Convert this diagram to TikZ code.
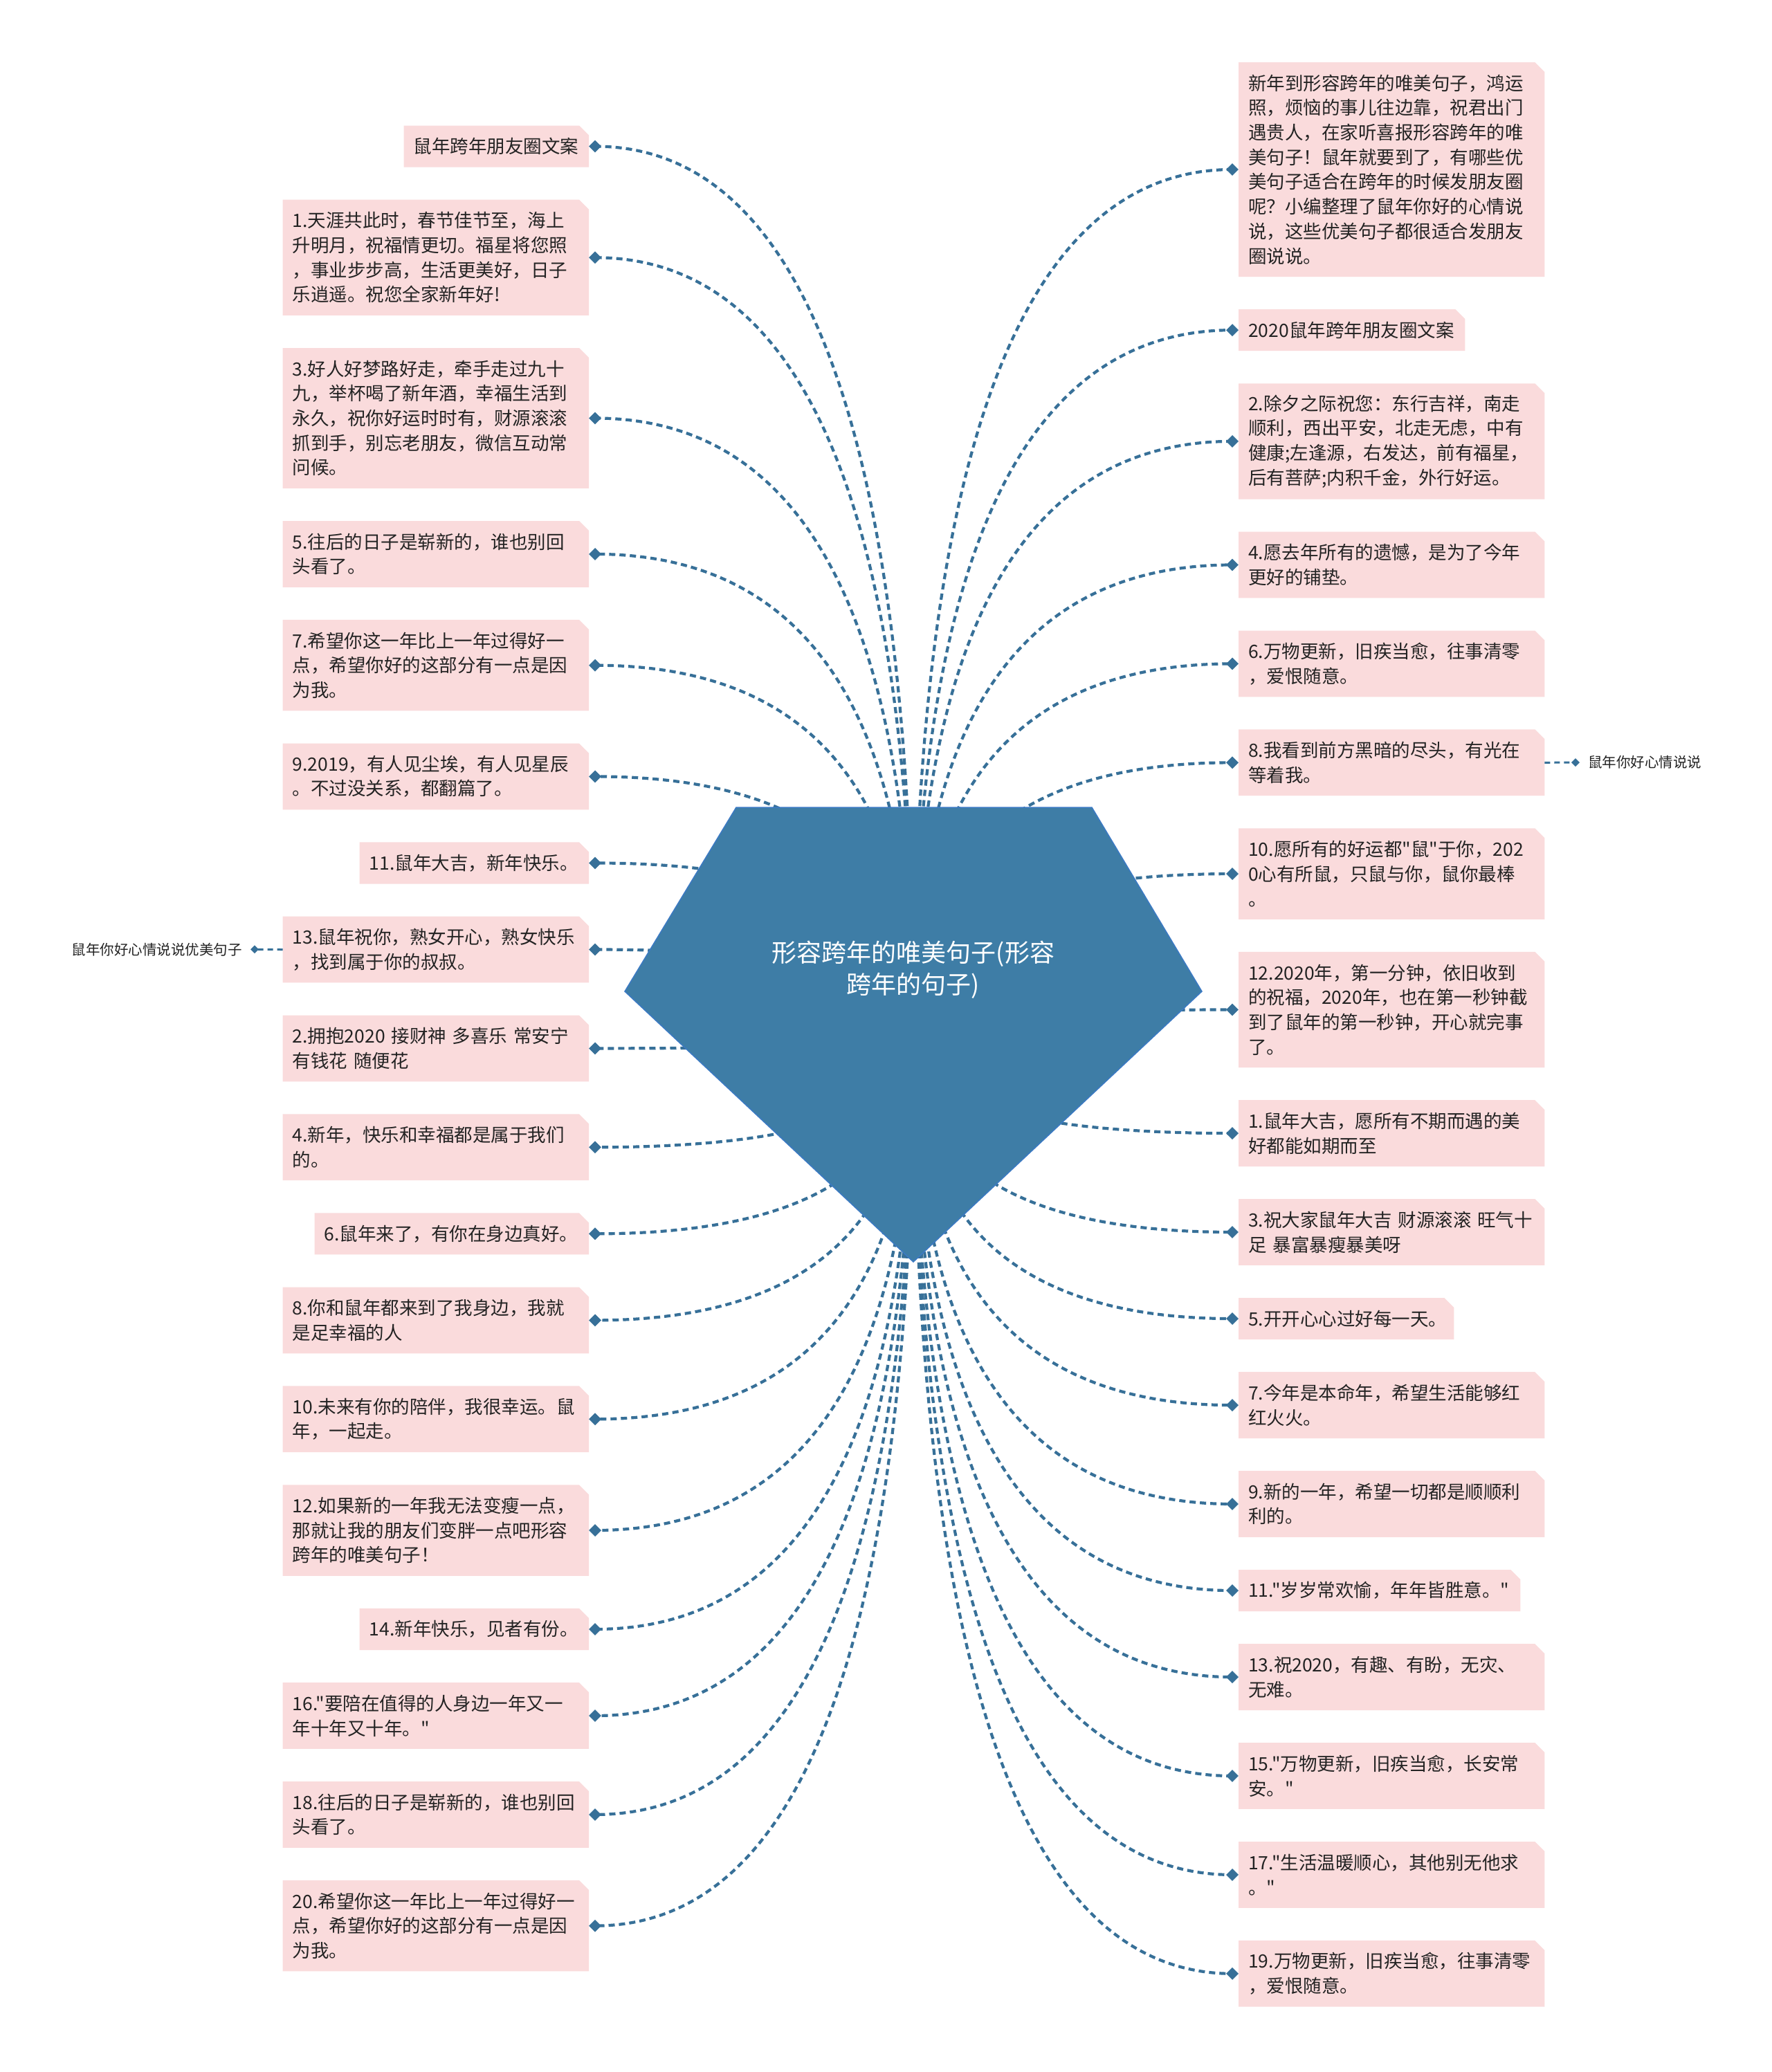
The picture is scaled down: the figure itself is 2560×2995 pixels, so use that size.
\documentclass[tikz,border=0pt]{standalone}
\usepackage{fontspec}
\setmainfont{Noto Sans CJK SC}
\newfontfamily\cjkf{Noto Sans CJK SC}
\usetikzlibrary{shapes.geometric,calc,backgrounds}
\definecolor{pinkc}{RGB}{250,219,220}
\definecolor{linec}{RGB}{55,112,152}
\definecolor{hubc}{RGB}{62,125,166}
\definecolor{hubedge}{RGB}{60,122,196}
\definecolor{txtc}{RGB}{35,35,35}
\newcommand{\leaf}[6]{%
  \pgfmathsetmacro{\lh}{24+35.7*#4}%
  \pgfmathsetmacro{\lw}{#5-28}%
  \ifx L#2
    \node[leaf, anchor=north east, minimum height=\lh pt, text width=\lw pt] (#1) at (851,#3) {#6};
    \node[dia] (#1d) at ([xshift=9pt]#1.east) {};
  \else
    \node[leaf, anchor=north west, minimum height=\lh pt, text width=\lw pt] (#1) at (1790,#3) {#6};
    \node[dia] (#1d) at ([xshift=-9pt]#1.west) {};
  \fi
  \begin{pgfonlayer}{background}
    \fill[pinkc] (#1.south west) -- (#1.north west) -- ([xshift=-14pt]#1.north east) -- ([yshift=-14pt]#1.north east) -- (#1.south east) -- cycle;
  \end{pgfonlayer}%
}
\begin{document}
\begin{tikzpicture}[x=1pt,y=-1pt,
  leaf/.style={inner xsep=14pt, inner ysep=0pt, align=left, text=txtc, font=\cjkf\fontsize{26.5}{35.7}\selectfont},
  dia/.style={diamond, fill=linec, minimum width=18pt, minimum height=18pt, inner sep=0pt},
  smalldia/.style={diamond, fill=linec, minimum width=12pt, minimum height=12pt, inner sep=0pt},
  conn/.style={draw=linec, line width=4.2pt, dash pattern=on 9pt off 6pt},
  connsmall/.style={draw=linec, line width=3pt, dash pattern=on 8pt off 6pt},
  sidetext/.style={inner sep=0pt, text=txtc, font=\cjkf\fontsize{20.5}{24}\selectfont}]
\useasboundingbox (0,0) rectangle (2560,2995);
\begin{pgfonlayer}{background}
\fill[white] (0,0) rectangle (2560,2995);
\end{pgfonlayer}

% left column
\leaf{L0}{L}{181.5}{1}{267}{鼠年跨年朋友圈文案}
\leaf{L1}{L}{288.7}{4}{442}{1.天涯共此时，春节佳节至，海上\\升明月，祝福情更切。福星将您照\\，事业步步高，生活更美好，日子\\乐逍遥。祝您全家新年好!}
\leaf{L2}{L}{503.0}{5}{442}{3.好人好梦路好走，牵手走过九十\\九，举杯喝了新年酒，幸福生活到\\永久，祝你好运时时有，财源滚滚\\抓到手，别忘老朋友，微信互动常\\问候。}
\leaf{L3}{L}{753.0}{2}{442}{5.往后的日子是崭新的，谁也别回\\头看了。}
\leaf{L4}{L}{895.9}{3}{442}{7.希望你这一年比上一年过得好一\\点，希望你好的这部分有一点是因\\为我。}
\leaf{L5}{L}{1074.5}{2}{442}{9.2019，有人见尘埃，有人见星辰\\。不过没关系，都翻篇了。}
\leaf{L6}{L}{1217.4}{1}{331}{11.鼠年大吉，新年快乐。}
\leaf{L7}{L}{1324.6}{2}{442}{13.鼠年祝你，熟女开心，熟女快乐\\，找到属于你的叔叔。}
\leaf{L8}{L}{1467.5}{2}{442}{2.拥抱2020 接财神 多喜乐 常安宁\\有钱花 随便花}
\leaf{L9}{L}{1610.4}{2}{442}{4.新年，快乐和幸福都是属于我们\\的。}
\leaf{L10}{L}{1753.3}{1}{396}{6.鼠年来了，有你在身边真好。}
\leaf{L11}{L}{1860.5}{2}{442}{8.你和鼠年都来到了我身边，我就\\是足幸福的人}
\leaf{L12}{L}{2003.4}{2}{442}{10.未来有你的陪伴，我很幸运。鼠\\年，一起走。}
\leaf{L13}{L}{2146.3}{3}{442}{12.如果新的一年我无法变瘦一点，\\那就让我的朋友们变胖一点吧形容\\跨年的唯美句子！}
\leaf{L14}{L}{2324.9}{1}{331}{14.新年快乐，见者有份。}
\leaf{L15}{L}{2432.1}{2}{442}{16."要陪在值得的人身边一年又一\\年十年又十年。"}
\leaf{L16}{L}{2575.0}{2}{442}{18.往后的日子是崭新的，谁也别回\\头看了。}
\leaf{L17}{L}{2717.9}{3}{442}{20.希望你这一年比上一年过得好一\\点，希望你好的这部分有一点是因\\为我。}

% right column
\leaf{R0}{R}{90}{8}{442}{新年到形容跨年的唯美句子，鸿运\\照，烦恼的事儿往边靠，祝君出门\\遇贵人，在家听喜报形容跨年的唯\\美句子！鼠年就要到了，有哪些优\\美句子适合在跨年的时候发朋友圈\\呢？小编整理了鼠年你好的心情说\\说，这些优美句子都很适合发朋友\\圈说说。}
\leaf{R1}{R}{447.1}{1}{327}{2020鼠年跨年朋友圈文案}
\leaf{R2}{R}{554.3}{4}{442}{2.除夕之际祝您：东行吉祥，南走\\顺利，西出平安，北走无虑，中有\\健康;左逢源，右发达，前有福星，\\后有菩萨;内积千金，外行好运。}
\leaf{R3}{R}{768.6}{2}{442}{4.愿去年所有的遗憾，是为了今年\\更好的铺垫。}
\leaf{R4}{R}{911.5}{2}{442}{6.万物更新，旧疾当愈，往事清零\\，爱恨随意。}
\leaf{R5}{R}{1054.4}{2}{442}{8.我看到前方黑暗的尽头，有光在\\等着我。}
\leaf{R6}{R}{1197.3}{3}{442}{10.愿所有的好运都"鼠"于你，202\\0心有所鼠，只鼠与你，鼠你最棒\\。}
\leaf{R7}{R}{1375.9}{4}{442}{12.2020年，第一分钟，依旧收到\\的祝福，2020年，也在第一秒钟截\\到了鼠年的第一秒钟，开心就完事\\了。}
\leaf{R8}{R}{1590.2}{2}{442}{1.鼠年大吉，愿所有不期而遇的美\\好都能如期而至}
\leaf{R9}{R}{1733.1}{2}{442}{3.祝大家鼠年大吉 财源滚滚 旺气十\\足 暴富暴瘦暴美呀}
\leaf{R10}{R}{1876.0}{1}{311}{5.开开心心过好每一天。}
\leaf{R11}{R}{1983.2}{2}{442}{7.今年是本命年，希望生活能够红\\红火火。}
\leaf{R12}{R}{2126.1}{2}{442}{9.新的一年，希望一切都是顺顺利\\利的。}
\leaf{R13}{R}{2269.0}{1}{407}{11."岁岁常欢愉，年年皆胜意。"}
\leaf{R14}{R}{2376.2}{2}{442}{13.祝2020，有趣、有盼，无灾、\\无难。}
\leaf{R15}{R}{2519.1}{2}{442}{15."万物更新，旧疾当愈，长安常\\安。"}
\leaf{R16}{R}{2662.0}{2}{442}{17."生活温暖顺心，其他别无他求\\。"}
\leaf{R17}{R}{2804.9}{2}{442}{19.万物更新，旧疾当愈，往事清零\\，爱恨随意。}

% side nodes
\node[sidetext, anchor=west] (R5x) at (2295,1102.1) {鼠年你好心情说说};
\node[smalldia] (R5xd) at (2277,1102.1) {};
\node[sidetext, anchor=east] (L7x) at (350,1372.3) {鼠年你好心情说说优美句子};
\node[smalldia] (L7xd) at (368,1372.3) {};

% central topic
\fill[hubc, draw=hubedge, line width=1.5pt] (1064,1167) -- (1578,1167) -- (1737,1433) -- (1320,1824) -- (903,1433) -- cycle;
\coordinate (hub) at (1320,1495);
\node[text=white, align=center, font=\cjkf\fontsize{36}{46}\selectfont] (root) at (1320,1402) {形容跨年的唯美句子(形容\\跨年的句子)};

% connectors
\begin{pgfonlayer}{background}
\foreach \n in {L0,L1,L2,L3,L4,L5,L6,L7,L8,L9,L10,L11,L12,L13,L14,L15,L16,L17,R0,R1,R2,R3,R4,R5,R6,R7,R8,R9,R10,R11,R12,R13,R14,R15,R16,R17}{
  \draw[conn] (hub) .. controls ($(hub)!0.6667!(hub |- \n d.center)$) and ($(\n d.center)!0.6667!(hub |- \n d.center)$) .. (\n d.center);
}
\draw[connsmall] (R5.east) -- (R5xd.center);
\draw[connsmall] (L7.west) -- (L7xd.center);
\end{pgfonlayer}
\end{tikzpicture}
\end{document}
